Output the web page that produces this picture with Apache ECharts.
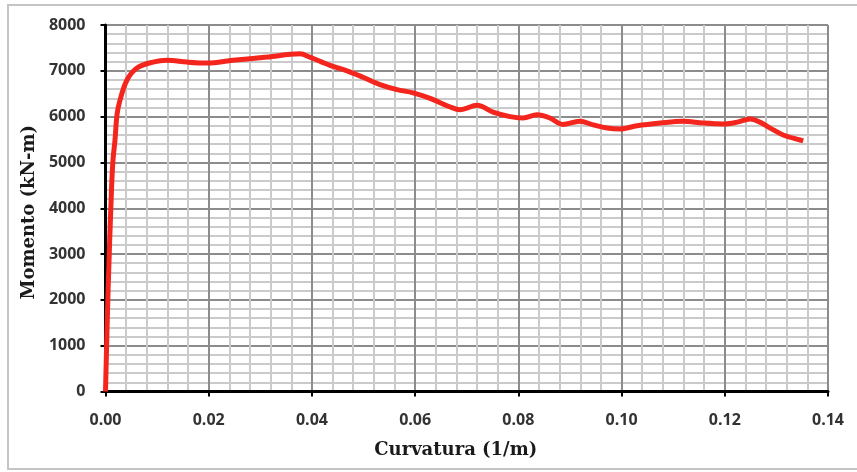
<!DOCTYPE html>
<html>
<head>
<meta charset="utf-8">
<script src="https://cdn.jsdelivr.net/npm/echarts@6/dist/echarts.min.js"></script>
<style>
  html, body { margin: 0; padding: 0; background: #ffffff; }
  #chart { width: 857px; height: 472px; }
</style>
</head>
<body>
<div id="chart"></div>
<script>
// Moment–curvature curve of the section
const curvatura = [
  0, 0.0005, 0.00116, 0.00145, 0.00184, 0.00223, 0.00281, 0.00417, 0.0061,
  0.0092, 0.0119, 0.0158, 0.0197, 0.0247, 0.0313, 0.0377, 0.0396,
  0.0435, 0.0468, 0.0499, 0.0532, 0.0565, 0.0596, 0.0629, 0.0668, 0.0687,
  0.0720, 0.0751, 0.0784, 0.0809, 0.0836, 0.0861, 0.0886, 0.0919, 0.0945,
  0.0972, 0.0997, 0.1030, 0.1075, 0.1119, 0.1158, 0.1197, 0.1224, 0.1249,
  0.1268, 0.1288, 0.1313, 0.1346, 0.1352
];
const momento = [
  0, 2200, 4400, 5050, 5490, 6040, 6360, 6800, 7060,
  7190, 7230, 7190, 7170, 7230, 7300, 7370, 7300,
  7120, 7000, 6860, 6700, 6590, 6520, 6400, 6210, 6150,
  6250, 6100, 6000, 5970, 6040, 5970, 5830, 5900, 5820,
  5750, 5730, 5800, 5860, 5900, 5860, 5840, 5880, 5950,
  5880, 5750, 5600, 5490, 5470
];
const xTicks = [0, 0.02, 0.04, 0.06, 0.08, 0.10, 0.12, 0.14];
const yTicks = [0, 1000, 2000, 3000, 4000, 5000, 6000, 7000, 8000];

const chart = echarts.init(document.getElementById('chart'), null, { renderer: 'canvas' });

const labelFont = { fontFamily: "'Open Sans', sans-serif", fontWeight: 'bold', fontSize: 16, color: '#333333' };
const nameFont = { fontFamily: "'DejaVu Serif', serif", fontWeight: 'bold', fontSize: 18, color: '#1a1a1a' };

chart.setOption({
  animation: false,
  backgroundColor: '#ffffff',
  graphic: [{
    type: 'rect',
    shape: { x: 8, y: 5, width: 900, height: 464 },
    style: { fill: 'none', stroke: '#c4c4c4', lineWidth: 2 },
    silent: true
  }],
  grid: { left: 105.5, right: 29, top: 25, bottom: 80.5 },
  xAxis: {
    type: 'value',
    min: xTicks[0],
    max: xTicks[xTicks.length - 1],
    interval: 0.02,
    name: 'Curvatura (1/m)',
    nameLocation: 'middle',
    nameGap: 50,
    nameTextStyle: Object.assign({ padding: [0, 22, 0, 0] }, nameFont),
    axisLine: { show: true, onZero: false, lineStyle: { color: '#000', width: 3 } },
    axisTick: { show: true, inside: false, length: 5, lineStyle: { color: '#000', width: 2 } },
    axisLabel: Object.assign({ margin: 21, formatter: v => v.toFixed(2) }, labelFont),
    splitLine: { show: true, lineStyle: { color: '#8c8c8c', width: 2 } },
    minorTick: { show: false, splitNumber: 5 },
    minorSplitLine: { show: true, lineStyle: { color: '#cacaca', width: 2 } }
  },
  yAxis: {
    type: 'value',
    min: yTicks[0],
    max: yTicks[yTicks.length - 1],
    interval: 1000,
    name: 'Momento (kN-m)',
    nameLocation: 'middle',
    nameGap: 66,
    nameTextStyle: Object.assign({ padding: [0, 8, 0, 0] }, nameFont),
    axisLine: { show: true, onZero: false, lineStyle: { color: '#000', width: 3 } },
    axisTick: { show: true, inside: false, length: 5, lineStyle: { color: '#000', width: 2 } },
    axisLabel: Object.assign({ margin: 20, formatter: v => String(v) }, labelFont),
    splitLine: { show: true, lineStyle: { color: '#8c8c8c', width: 2 } },
    minorTick: { show: false, splitNumber: 5 },
    minorSplitLine: { show: true, lineStyle: { color: '#cacaca', width: 2 } }
  },
  series: [{
    type: 'line',
    data: curvatura.map((c, i) => [c, momento[i]]),
    smooth: 0.35,
    showSymbol: false,
    lineStyle: { color: '#f4251d', width: 5 },
    z: 5
  }]
});
</script>
</body>
</html>
